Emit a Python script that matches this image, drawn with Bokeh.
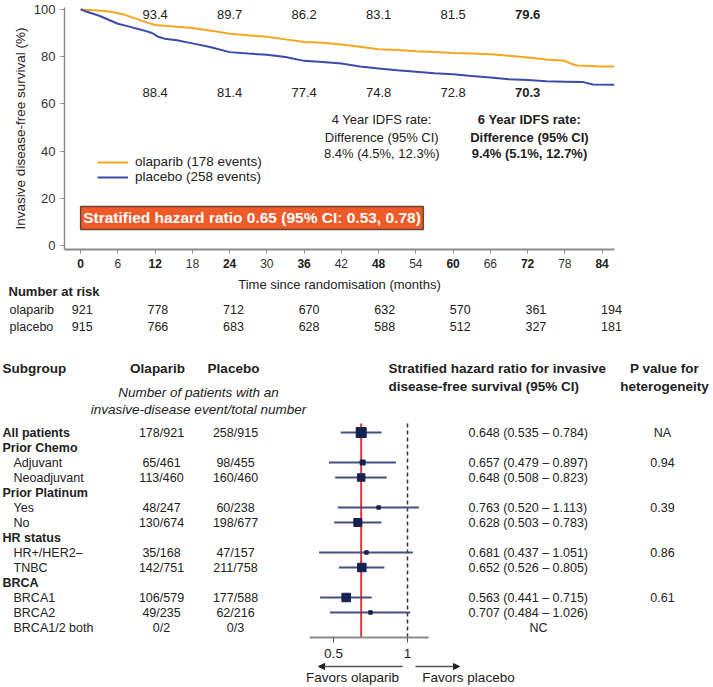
import math
from bokeh.plotting import figure
from bokeh.layouts import column
from bokeh.models import Range1d, FixedTicker, LogScale, Legend, LegendItem, Arrow, NormalHead
from bokeh.core.properties import value
from bokeh.embed import file_html
from bokeh.resources import INLINE

FONT = "Liberation Sans"
ORANGE = "#F8A51E"
BLUE = "#3A4BAA"
NAVY = "#15224F"
CI_COL = "#44507E"
RED = "#E8323C"
GRAY = "#8C8C8C"
TXT = "#222222"

# ---------------- Kaplan-Meier data ----------------
olaparib_t = [0, 2, 4, 5, 7, 9, 11, 12, 15, 18, 21, 24, 27, 30, 33, 36, 39, 42, 45, 48,
              51, 54, 57, 60, 63, 66, 69, 72, 75, 78, 79, 80, 84, 86]
olaparib_s = [100, 99.6, 99.3, 98.9, 97.8, 96.0, 94.2, 93.4, 92.8, 92.1, 91.0, 89.7, 89.0,
              88.4, 87.3, 86.2, 85.9, 85.1, 84.2, 83.1, 82.8, 82.3, 81.9, 81.5, 81.3, 81.0,
              80.4, 79.6, 78.8, 78.2, 77.0, 76.2, 75.8, 75.8]
placebo_t = [0, 1, 3, 6, 8, 10, 11.5, 12.5, 13.5, 15.5, 18, 21, 24, 27, 30, 33, 36, 39, 42,
             45, 48, 51, 54, 57, 60, 63, 66, 69, 72, 75, 78, 81, 82.5, 86]
placebo_s = [100, 99.0, 97.3, 93.9, 92.6, 91.2, 90.0, 88.4, 87.6, 86.9, 85.6, 84.0, 81.9,
             81.3, 80.8, 79.8, 78.2, 77.7, 77.1, 75.8, 75.0, 74.2, 73.6, 73.0, 72.5, 71.8,
             71.2, 70.4, 70.1, 69.6, 69.4, 69.2, 68.2, 68.1]

landmark_months = [12, 24, 36, 48, 60, 72]
olaparib_landmark = [93.4, 89.7, 86.2, 83.1, 81.5, 79.6]
placebo_landmark = [88.4, 81.4, 77.4, 74.8, 72.8, 70.3]

x_ticks = [0, 6, 12, 18, 24, 30, 36, 42, 48, 54, 60, 66, 72, 78, 84]
bold_ticks = [0, 12, 24, 36, 48, 60, 72, 84]
y_ticks = [0, 20, 40, 60, 80, 100]

risk_months = [0, 12, 24, 36, 48, 60, 72, 84]
risk_olaparib = [921, 778, 712, 670, 632, 570, 361, 194]
risk_placebo = [915, 766, 683, 628, 588, 512, 327, 181]

legend_labels = ["olaparib (178 events)", "placebo (258 events)"]
hr_box_text = "Stratified hazard ratio 0.65 (95% CI: 0.53, 0.78)"
idfs4_lines = ["4 Year IDFS rate:", "Difference (95% CI)", "8.4% (4.5%, 12.3%)"]
idfs6_lines = ["6 Year IDFS rate:", "Difference (95% CI)", "9.4% (5.1%, 12.7%)"]

# ---------------- Forest data ----------------
subgroups = ["All patients", "Prior Chemo", "Adjuvant", "Neoadjuvant", "Prior Platinum",
             "Yes", "No", "HR status", "HR+/HER2\u2013", "TNBC", "BRCA", "BRCA1", "BRCA2",
             "BRCA1/2 both"]
is_bold = [True, True, False, False, True, False, False, True, False, False, True, False,
           False, False]
olaparib_counts = ["178/921", "", "65/461", "113/460", "", "48/247", "130/674", "",
                   "35/168", "142/751", "", "106/579", "49/235", "0/2"]
placebo_counts = ["258/915", "", "98/455", "160/460", "", "60/238", "198/677", "",
                  "47/157", "211/758", "", "177/588", "62/216", "0/3"]
hr_est = [0.648, None, 0.657, 0.648, None, 0.763, 0.628, None, 0.681, 0.652, None, 0.563,
          0.707, None]
hr_low = [0.535, None, 0.479, 0.508, None, 0.520, 0.503, None, 0.437, 0.526, None, 0.441,
          0.484, None]
hr_high = [0.784, None, 0.897, 0.823, None, 1.113, 0.783, None, 1.051, 0.805, None, 0.715,
           1.026, None]
nc_rows = ["BRCA1/2 both"]
p_values = ["NA", "", "0.94", "", "", "0.39", "", "", "0.86", "", "", "0.61", "", ""]
hr_axis_ticks = [0.5, 1]

# marker sizes (px) per estimated row (style)
square_px = {"All patients": 10, "Adjuvant": 5, "Neoadjuvant": 7.5, "Yes": 3.5, "No": 8,
             "HR+/HER2\u2013": 3.5, "TNBC": 8.5, "BRCA1": 8.5, "BRCA2": 3.5}


def txt(fig, x, y, text, size="13px", style="normal", align="left", baseline="middle",
        color=TXT, **kw):
    return fig.text(x=x, y=y, text=text, text_font=value(FONT), text_font_size=size,
                    text_font_style=style, text_align=align, text_baseline=baseline,
                    text_color=color, **kw)


W = 713
FRAME_L, FRAME_R = 64, 614

# ======================= KM figure =======================
KM_H = 345
km = figure(width=W, height=KM_H, x_range=Range1d(-2.6, 86.0), y_range=Range1d(-1.7, 100.8),
            output_backend="svg", toolbar_location=None,
            min_border_left=FRAME_L, min_border_right=W - FRAME_R, min_border_top=7,
            min_border_bottom=KM_H - 249)
km.grid.visible = False
km.outline_line_color = None

r_ola = km.line(olaparib_t, olaparib_s, line_color=ORANGE, line_width=2)
r_pla = km.line(placebo_t, placebo_s, line_color=BLUE, line_width=2)

# axes
km.yaxis.ticker = FixedTicker(ticks=y_ticks)
km.yaxis.axis_label = "Invasive disease-free survival (%)"
km.yaxis.axis_label_text_font = FONT
km.yaxis.axis_label_text_font_style = "normal"
km.yaxis.axis_label_text_font_size = "13.5px"
km.yaxis.axis_label_text_color = TXT
km.yaxis.axis_label_standoff = 3
km.yaxis.major_label_text_font = FONT
km.yaxis.major_label_text_font_size = "13px"
km.yaxis.major_label_text_color = "#333333"
km.yaxis.major_tick_in = 0
km.yaxis.major_tick_out = 4
km.yaxis.minor_tick_line_color = None
km.yaxis.axis_line_color = GRAY
km.yaxis.axis_line_width = 1.5
km.yaxis.major_tick_line_color = GRAY

km.xaxis.ticker = FixedTicker(ticks=x_ticks)
km.xaxis.major_label_overrides = {t: "" for t in bold_ticks}
km.xaxis.axis_label = "Time since randomisation (months)"
km.xaxis.axis_label_text_font = FONT
km.xaxis.axis_label_text_font_style = "normal"
km.xaxis.axis_label_text_font_size = "13px"
km.xaxis.axis_label_text_color = TXT
km.xaxis.axis_label_standoff = 6
km.xaxis.major_label_text_font = FONT
km.xaxis.major_label_text_font_size = "12px"
km.xaxis.major_label_text_color = "#333333"
km.xaxis.major_label_standoff = 5
km.xaxis.major_tick_in = 0
km.xaxis.major_tick_out = 4
km.xaxis.minor_tick_line_color = None
km.xaxis.axis_line_color = GRAY
km.xaxis.axis_line_width = 2
km.xaxis.major_tick_line_color = GRAY

y0 = km.y_range.start
x0 = km.x_range.start
# bold tick labels
txt(km, bold_ticks, [y0] * len(bold_ticks), [str(t) for t in bold_ticks], size="12px",
    style="bold", align="center", baseline="top", y_offset=9, level="overlay")

# landmark values
lm_style = ["normal"] * (len(landmark_months) - 1) + ["bold"]
txt(km, landmark_months, [97.8] * 6, [f"{v:.1f}" for v in olaparib_landmark], size="13px",
    style=lm_style, align="center")
txt(km, landmark_months, [64.8] * 6, [f"{v:.1f}" for v in placebo_landmark], size="13px",
    style=lm_style, align="center")

# IDFS text blocks
idfs_y = [53.4, 45.9, 38.8]
txt(km, [48.5] * 3, idfs_y, idfs4_lines, size="13px", align="center")
txt(km, [72.3] * 3, idfs_y, idfs6_lines, size="13px", style="bold", align="center")

# hazard ratio box
km.quad(left=[0], right=[55.2], bottom=[6.8], top=[16.5], fill_color="#F05A28",
        line_color="#6B4436", line_width=1.5)
txt(km, [27.6], [11.65], [hr_box_text], size="15.5px", style="bold", align="center",
    color="white")

# legend
legend = Legend(items=[LegendItem(label=legend_labels[0], renderers=[r_ola]),
                       LegendItem(label=legend_labels[1], renderers=[r_pla])],
                location=(33, 65), background_fill_alpha=0, border_line_color=None,
                padding=0, margin=0, spacing=0, glyph_width=31, glyph_height=14,
                label_height=14, label_standoff=7, label_text_font=FONT,
                label_text_font_size="13.5px", label_text_color=TXT)
km.add_layout(legend)

# number at risk table
tick_px = (FRAME_R - FRAME_L) / (86.0 + 2.6)
risk_lo = 0 - (81.5 - FRAME_L) / tick_px
risk_hi = 84 + (FRAME_R - 611) / tick_px
km.extra_x_ranges = {"risk": Range1d(risk_lo, risk_hi)}
txt(km, [x0], [y0], ["Number at risk"], size="13px", style="bold", x_offset=-56,
    y_offset=42, level="overlay")
txt(km, [x0, x0], [y0, y0], ["olaparib", "placebo"], size="12.5px", x_offset=-55,
    y_offset=[60, 77], level="overlay")
txt(km, risk_months, [y0] * 8, [str(v) for v in risk_olaparib], size="12.5px",
    align="center", y_offset=60, x_range_name="risk", level="overlay")
txt(km, risk_months, [y0] * 8, [str(v) for v in risk_placebo], size="12.5px",
    align="center", y_offset=77, x_range_name="risk", level="overlay")

# ======================= Forest figure =======================
FP_TOP, FP_BOT = KM_H, 686
fp = figure(width=W, height=FP_BOT - FP_TOP, x_range=Range1d(FRAME_L, FRAME_R),
            y_range=Range1d(FP_BOT, FP_TOP), x_axis_location=None, y_axis_location=None,
            output_backend="svg", toolbar_location=None,
            min_border_left=FRAME_L, min_border_right=W - FRAME_R,
            min_border_top=0, min_border_bottom=0)
fp.grid.visible = False
fp.outline_line_color = None

k = (407 - 333) / math.log(2)
fp.extra_x_ranges = {"hr": Range1d(0.5 * math.exp(-(333 - FRAME_L) / k),
                                   1.0 * math.exp((FRAME_R - 407) / k))}
fp.extra_x_scales = {"hr": LogScale()}

row_y = [432 + 15 * i for i in range(len(subgroups))]
OV = dict(level="overlay")

# headers
txt(fp, [2], [368], ["Subgroup"], size="13.5px", style="bold", **OV)
txt(fp, [157, 233], [368, 368], ["Olaparib", "Placebo"], size="13.5px", style="bold",
    align="center", **OV)
txt(fp, [198, 198], [392, 409], ["Number of patients with an",
                                 "invasive-disease event/total number"],
    size="13.5px", style="italic", align="center", **OV)
txt(fp, [388, 388], [368, 386], ["Stratified hazard ratio for invasive",
                                 "disease-free survival (95% CI)"],
    size="13.5px", style="bold", **OV)
txt(fp, [664, 664], [368, 386], ["P value for", "heterogeneity"], size="13.5px",
    style="bold", align="center", **OV)

# subgroup labels and table columns
lab_x = [2 if b else 13 for b in is_bold]
lab_style = ["bold" if b else "normal" for b in is_bold]
txt(fp, lab_x, row_y, subgroups, size="12.5px", style=lab_style, **OV)
txt(fp, [161] * len(row_y), row_y, olaparib_counts, size="12.5px", align="center", **OV)
txt(fp, [235] * len(row_y), row_y, placebo_counts, size="12.5px", align="center", **OV)
txt(fp, [662] * len(row_y), row_y, p_values, size="12.5px", align="center", **OV)

est_idx = [i for i, h in enumerate(hr_est) if h is not None]
hr_txt = [f"{hr_est[i]:.3f} ({hr_low[i]:.3f} \u2013 {hr_high[i]:.3f})" for i in est_idx]
txt(fp, [468] * len(est_idx), [row_y[i] for i in est_idx], hr_txt, size="12.5px", **OV)
nc_idx = [subgroups.index(s) for s in nc_rows]
txt(fp, [538] * len(nc_idx), [row_y[i] for i in nc_idx], ["NC"] * len(nc_idx),
    size="12.5px", align="center", **OV)

# reference lines
line_top, axis_y = 423, 637
fp.segment(x0=[1], x1=[1], y0=[line_top], y1=[axis_y], x_range_name="hr",
           line_color="#333333", line_width=1.5, line_dash="4 3")
fp.segment(x0=[hr_est[0]], x1=[hr_est[0]], y0=[line_top], y1=[axis_y], x_range_name="hr",
           line_color=RED, line_width=2)

# CIs and squares
fp.segment(x0=[hr_low[i] for i in est_idx], x1=[hr_high[i] for i in est_idx],
           y0=[row_y[i] for i in est_idx], y1=[row_y[i] for i in est_idx],
           x_range_name="hr", line_color=CI_COL, line_width=2)
fp.scatter(x=[hr_est[i] for i in est_idx], y=[row_y[i] for i in est_idx], marker="square",
           size=[square_px[subgroups[i]] for i in est_idx], x_range_name="hr",
           fill_color=NAVY, line_color=NAVY)

# forest axis
fp.segment(x0=[0.4], x1=[1.22], y0=[axis_y], y1=[axis_y], x_range_name="hr",
           line_color=GRAY, line_width=2)
fp.segment(x0=hr_axis_ticks, x1=hr_axis_ticks, y0=[axis_y] * 2, y1=[axis_y + 5] * 2,
           x_range_name="hr", line_color="#555555", line_width=1)
txt(fp, hr_axis_ticks, [653, 653], ["0.5", "1"], size="13.5px", align="center",
    x_range_name="hr", **OV)

# arrows
fp.add_layout(Arrow(end=NormalHead(size=6, fill_color="#222222", line_color="#222222"),
                    x_start=402, y_start=666, x_end=318, y_end=666,
                    line_color="#555555", line_width=1.5))
fp.add_layout(Arrow(end=NormalHead(size=6, fill_color="#222222", line_color="#222222"),
                    x_start=415, y_start=666, x_end=459, y_end=666,
                    line_color="#555555", line_width=1.5))
txt(fp, [352, 468], [677, 677], ["Favors olaparib", "Favors placebo"], size="13.5px",
    align="center", **OV)

layout = column(km, fp, spacing=0)
with open("out.html", "w") as f:
    f.write(file_html(layout, INLINE))
